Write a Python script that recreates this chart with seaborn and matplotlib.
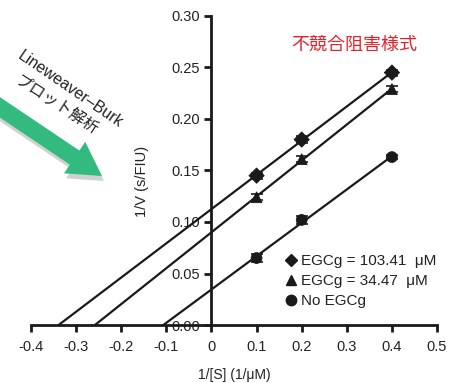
import numpy as np
import pandas as pd
import matplotlib
matplotlib.use("Agg")
import matplotlib.pyplot as plt
import seaborn as sns
from matplotlib.patches import FancyArrow
from matplotlib.lines import Line2D

# data
inv_s = [0.1, 0.2, 0.4]
v_high = [0.145, 0.180, 0.245]   # EGCg = 103.41 uM
v_mid = [0.124, 0.161, 0.229]    # EGCg = 34.47 uM
v_none = [0.065, 0.102, 0.163]   # No EGCg
err_high = [0.003, 0.003, 0.003]
err_mid = [0.003, 0.003, 0.003]
err_none = [0.004, 0.004, 0.002]
labels = ["EGCg = 103.41  μM", "EGCg = 34.47  μM", "No EGCg"]
markers = ["D", "^", "o"]
x_ticks = [-0.4, -0.3, -0.2, -0.1, 0, 0.1, 0.2, 0.3, 0.4, 0.5]
x_ticklabels = ["-0.4", "-0.3", "-0.2", "-0.1", "0", "0.1", "0.2", "0.3", "0.4", "0.5"]
y_ticks = [0, 0.05, 0.10, 0.15, 0.20, 0.25, 0.30]

sns.set_style("ticks")
plt.rcParams['font.family'] = ['Liberation Sans', 'Noto Sans CJK JP', 'DejaVu Sans']

df = pd.DataFrame({
    'x': inv_s * 3,
    'y': v_high + v_mid + v_none,
    'err': err_high + err_mid + err_none,
    'group': [labels[0]] * 3 + [labels[1]] * 3 + [labels[2]] * 3,
})

fig = plt.figure(figsize=(4.62, 3.83), dpi=100)
ax = fig.add_axes([0.067, 0.1514, 0.879, 0.807])

# fitted lines, extended down to the x-intercept
for lab in labels:
    sub = df[df['group'] == lab]
    slope, icpt = np.polyfit(sub['x'], sub['y'], 1)
    xs = np.array([-icpt / slope, max(sub['x'])])
    sns.lineplot(x=xs, y=slope * xs + icpt, color='#1a1a1a', lw=1.6, ax=ax)

for lab, m in zip(labels, markers):
    sub = df[df['group'] == lab]
    ax.errorbar(sub['x'], sub['y'], yerr=sub['err'], fmt='none', ecolor='#1a1a1a',
                elinewidth=1.2, capsize=4, capthick=1.2, zorder=3)
sns.scatterplot(data=df, x='x', y='y', style='group', markers=dict(zip(labels, markers)),
                color='#1a1a1a', s=60, edgecolor='#1a1a1a', legend=False, ax=ax, zorder=4)

ax.set_xlim(-0.4, 0.5)
ax.set_ylim(0, 0.30)
ax.set_xticks(x_ticks)
ax.set_xticklabels(x_ticklabels)
ax.set_yticks(y_ticks)
ax.set_yticklabels([f"{v:.2f}" for v in y_ticks])
ax.spines['left'].set_position(('data', 0))
ax.spines['top'].set_visible(False)
ax.spines['right'].set_visible(False)
for s in ['left', 'bottom']:
    ax.spines[s].set_linewidth(2)
    ax.spines[s].set_color('#1a1a1a')
ax.tick_params(axis='both', width=2, length=5, color='#1a1a1a', labelsize=10.5, colors='#222222')
ax.tick_params(axis='x', pad=6)

ax.set_xlabel("1/[S] (1/μM)", fontsize=10, color='#222222', labelpad=10)
ax.set_ylabel("1/V (s/FIU)", fontsize=10.5, color='#222222')
ax.yaxis.set_label_coords(0.29, 0.463)

ax.text(0.316, 0.272, "不競合阻害様式", color='#e8202a', fontsize=13,
        ha='center', va='center', family=['Noto Sans CJK JP', 'DejaVu Sans'])

handles = [Line2D([], [], marker=m, color='#1a1a1a', ls='none', markersize=7.5 if m != 'D' else 6)
           for m in markers]
ax.legend(handles, labels, loc='lower left', bbox_to_anchor=(0.585, 0.01), frameon=False,
          fontsize=11, handletextpad=0.0, handlelength=1.2, labelspacing=0.4,
          labelcolor='#222222')

# green arrow with shadow (coordinates in inches from the bottom-left)
H = 3.83
def ix(px):
    return px / 100
def iy(py):
    return H - py / 100
for off, col in [((2, 5), '#cfd3d0'), ((0, 0), '#33bb7f')]:
    x0, y0 = ix(-8 + off[0]), iy(102 + off[1])
    x1, y1 = ix(102 + off[0]), iy(176 + off[1])
    arr = FancyArrow(x0, y0, x1 - x0, y1 - y0, width=0.17, head_width=0.38,
                     head_length=0.33, length_includes_head=True,
                     transform=fig.dpi_scale_trans, color=col, lw=0)
    fig.add_artist(arr)

fig.text(70 / 462, 1 - 89 / 383, "Lineweaver–Burk", rotation=-34.5, fontsize=11.5, ha='center',
         va='center', color='#222222', rotation_mode='anchor')
fig.text(56 / 462, 1 - 106 / 383, "プロット解析", rotation=-33, fontsize=11.5, ha='center',
         va='center', color='#222222', rotation_mode='anchor',
         family=['Noto Sans CJK JP', 'DejaVu Sans'])

fig.savefig("out.png", dpi=100)
